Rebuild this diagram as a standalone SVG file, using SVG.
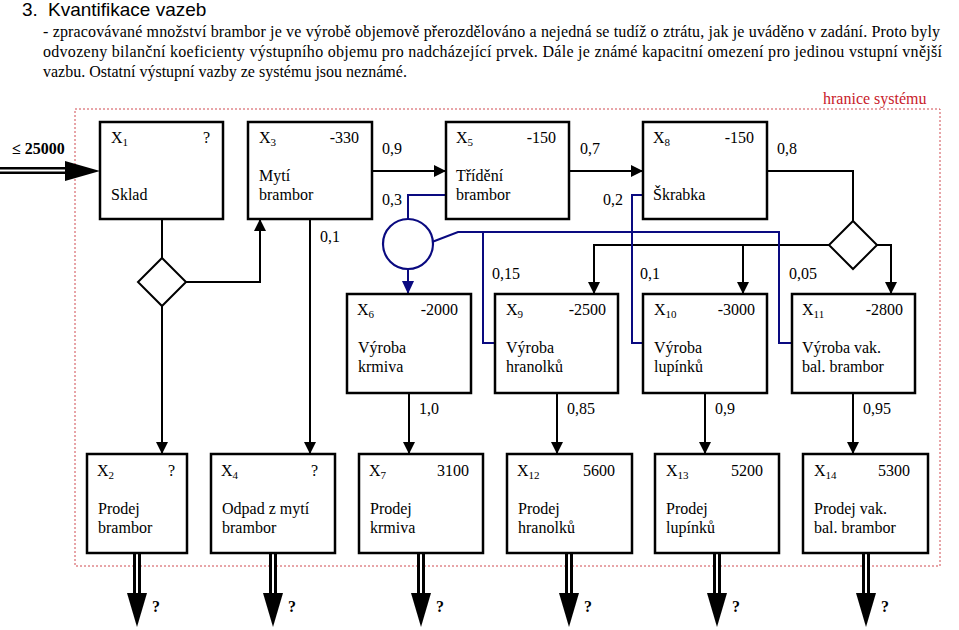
<svg xmlns="http://www.w3.org/2000/svg" width="959" height="630" viewBox="0 0 959 630">
<style>
text{font-family:"Liberation Serif","Times New Roman",serif;font-size:16px;fill:#000}
.title{font-family:"Liberation Sans",Arial,sans-serif;font-size:19px}
.box{fill:#fff;stroke:#000;stroke-width:2.5}
.ln{fill:none;stroke:#000;stroke-width:2}
.bl{fill:none;stroke:#0a0a80;stroke-width:2}
.sub{font-size:11px}
.r{text-anchor:end}
.b{font-weight:bold}
.red{fill:#c8202a}
</style>
<defs>
<marker id="ah" markerUnits="userSpaceOnUse" markerWidth="12" markerHeight="12" refX="12" refY="6" orient="auto">
<path d="M0,0 L12,6 L0,12 z" fill="#000"/>
</marker>
<marker id="ahb" markerUnits="userSpaceOnUse" markerWidth="13" markerHeight="12" refX="13" refY="6" orient="auto">
<path d="M0,0 L13,6 L0,12 z" fill="#0a0a80"/>
</marker>
<g id="out">
<path d="M0,0 V41" stroke="#000" stroke-width="8" fill="none"/>
<path d="M0,0 V41" stroke="#fff" stroke-width="2" fill="none"/>
<path d="M-10,40 L10,40 L0,74 z" fill="#000"/>
<text x="15" y="59" class="b">?</text>
</g>
</defs>

<text x="22" y="16" class="title">3.</text>
<text x="48" y="16" class="title">Kvantifikace vazeb</text>
<text x="43" y="37" textLength="897" lengthAdjust="spacing">- zpracovávané množství brambor je ve výrobě objemově přerozdělováno a nejedná se tudíž o ztrátu, jak je uváděno v zadání. Proto byly</text>
<text x="43" y="57" textLength="899" lengthAdjust="spacing">odvozeny bilanční koeficienty výstupního objemu pro nadcházející prvek. Dále je známé kapacitní omezení pro jedinou vstupní vnější</text>
<text x="43" y="77">vazbu. Ostatní výstupní vazby ze systému jsou neznámé.</text>

<g id="boundary">
<rect x="75" y="109" width="865" height="457" fill="none" stroke="#d04a50" stroke-width="1" stroke-dasharray="2,2"/>
<text x="823" y="104" class="red">hranice systému</text>
</g>

<g id="connectors">
<g id="input">
<path d="M0,170.5 H67" stroke="#000" stroke-width="7" fill="none"/>
<path d="M0,170.5 H67" stroke="#fff" stroke-width="2" fill="none"/>
<path d="M65,161 L100,171 L65,181 z" fill="#000"/>
<text x="12" y="154" class="b">≤ 25000</text>
</g>
<path class="ln" d="M372,171 H446" marker-end="url(#ah)"/>
<path class="ln" d="M569,171 H643" marker-end="url(#ah)"/>
<path class="ln" d="M767,171 H853 V221"/>
<path class="ln" d="M829,245 H594 V294" marker-end="url(#ah)"/>
<path class="ln" d="M743,245 V294" marker-end="url(#ah)"/>
<path class="ln" d="M877,245 H891 V294" marker-end="url(#ah)"/>
<path class="ln" d="M162,219 V258"/>
<path class="ln" d="M186,282 H260 V219" marker-end="url(#ah)"/>
<path class="ln" d="M162,306 V454" marker-end="url(#ah)"/>
<path class="ln" d="M310,219 V454" marker-end="url(#ah)"/>
<path class="ln" d="M409,393 V454" marker-end="url(#ah)"/>
<path class="ln" d="M557,393 V454" marker-end="url(#ah)"/>
<path class="ln" d="M705,393 V454" marker-end="url(#ah)"/>
<path class="ln" d="M853,393 V454" marker-end="url(#ah)"/>
<path class="bl" d="M446,195 H408 V219"/>
<path class="bl" d="M408,269 V294" marker-end="url(#ahb)"/>
<path class="bl" d="M432,242 L458,232 H779 V343 H792"/>
<path class="bl" d="M483,232 V343 H495"/>
<path class="bl" d="M643,195 H632 V343 H643"/>
<text x="382" y="154">0,9</text>
<text x="382" y="205">0,3</text>
<text x="580" y="154">0,7</text>
<text x="603" y="205">0,2</text>
<text x="777" y="154">0,8</text>
<text x="320" y="242">0,1</text>
<text x="492" y="279">0,15</text>
<text x="640" y="279">0,1</text>
<text x="789" y="279">0,05</text>
<text x="419" y="414">1,0</text>
<text x="567" y="414">0,85</text>
<text x="715" y="414">0,9</text>
<text x="863" y="414">0,95</text>
<use href="#out" x="137" y="553"/>
<use href="#out" x="273" y="553"/>
<use href="#out" x="421" y="553"/>
<use href="#out" x="569" y="553"/>
<use href="#out" x="717" y="553"/>
<use href="#out" x="866" y="553"/>
</g>

<g id="X1"><rect class="box" x="100" y="122" width="123" height="97"/>
<text x="111" y="143">X<tspan class="sub" dy="3">1</tspan></text><text x="210" y="143" class="r">?</text>
<text x="111" y="200">Sklad</text></g>
<g id="X3"><rect class="box" x="248" y="122" width="124" height="97"/>
<text x="259" y="143">X<tspan class="sub" dy="3">3</tspan></text><text x="359" y="143" class="r">-330</text>
<text x="259" y="181">Mytí</text><text x="259" y="200">brambor</text></g>
<g id="X5"><rect class="box" x="446" y="122" width="123" height="97"/>
<text x="456" y="143">X<tspan class="sub" dy="3">5</tspan></text><text x="556" y="143" class="r">-150</text>
<text x="456" y="181">Třídění</text><text x="456" y="200">brambor</text></g>
<g id="X8"><rect class="box" x="643" y="122" width="124" height="97"/>
<text x="653" y="143">X<tspan class="sub" dy="3">8</tspan></text><text x="754" y="143" class="r">-150</text>
<text x="653" y="200">Škrabka</text></g>

<g id="D1"><path class="box" d="M162,258 L186,282 L162,306 L138,282 z" style="stroke-width:2"/></g>
<g id="D2"><path class="box" d="M853,221 L877,245 L853,269 L829,245 z" style="stroke-width:2"/></g>
<g id="C1"><circle cx="408" cy="244" r="25" fill="#fff" stroke="#0a0a80" stroke-width="2.2"/></g>

<g id="X6"><rect class="box" x="347" y="294" width="124" height="99"/>
<text x="357" y="315">X<tspan class="sub" dy="3">6</tspan></text><text x="458" y="315" class="r">-2000</text>
<text x="358" y="353">Výroba</text><text x="358" y="372">krmiva</text></g>
<g id="X9"><rect class="box" x="495" y="294" width="123" height="99"/>
<text x="506" y="315">X<tspan class="sub" dy="3">9</tspan></text><text x="606" y="315" class="r">-2500</text>
<text x="506" y="353">Výroba</text><text x="506" y="372">hranolků</text></g>
<g id="X10"><rect class="box" x="643" y="294" width="124" height="99"/>
<text x="654" y="315">X<tspan class="sub" dy="3">10</tspan></text><text x="755" y="315" class="r">-3000</text>
<text x="654" y="353">Výroba</text><text x="654" y="372">lupínků</text></g>
<g id="X11"><rect class="box" x="792" y="294" width="123" height="99"/>
<text x="802" y="315">X<tspan class="sub" dy="3">11</tspan></text><text x="903" y="315" class="r">-2800</text>
<text x="802" y="353">Výroba vak.</text><text x="802" y="372">bal. brambor</text></g>

<g id="X2"><rect class="box" x="87" y="454" width="100" height="99"/>
<text x="97" y="476">X<tspan class="sub" dy="3">2</tspan></text><text x="175" y="476" class="r">?</text>
<text x="98" y="514">Prodej</text><text x="98" y="533">brambor</text></g>
<g id="X4"><rect class="box" x="211" y="454" width="124" height="99"/>
<text x="221" y="476">X<tspan class="sub" dy="3">4</tspan></text><text x="318" y="476" class="r">?</text>
<text x="222" y="514">Odpad z mytí</text><text x="222" y="533">brambor</text></g>
<g id="X7"><rect class="box" x="359" y="454" width="124" height="99"/>
<text x="369" y="476">X<tspan class="sub" dy="3">7</tspan></text><text x="469" y="476" class="r">3100</text>
<text x="370" y="514">Prodej</text><text x="370" y="533">krmiva</text></g>
<g id="X12"><rect class="box" x="507" y="454" width="125" height="99"/>
<text x="517" y="476">X<tspan class="sub" dy="3">12</tspan></text><text x="615" y="476" class="r">5600</text>
<text x="518" y="514">Prodej</text><text x="518" y="533">hranolků</text></g>
<g id="X13"><rect class="box" x="655" y="454" width="124" height="99"/>
<text x="666" y="476">X<tspan class="sub" dy="3">13</tspan></text><text x="763" y="476" class="r">5200</text>
<text x="666" y="514">Prodej</text><text x="666" y="533">lupínků</text></g>
<g id="X14"><rect class="box" x="803" y="454" width="125" height="99"/>
<text x="814" y="476">X<tspan class="sub" dy="3">14</tspan></text><text x="910" y="476" class="r">5300</text>
<text x="814" y="514">Prodej vak.</text><text x="814" y="533">bal. brambor</text></g>
</svg>
